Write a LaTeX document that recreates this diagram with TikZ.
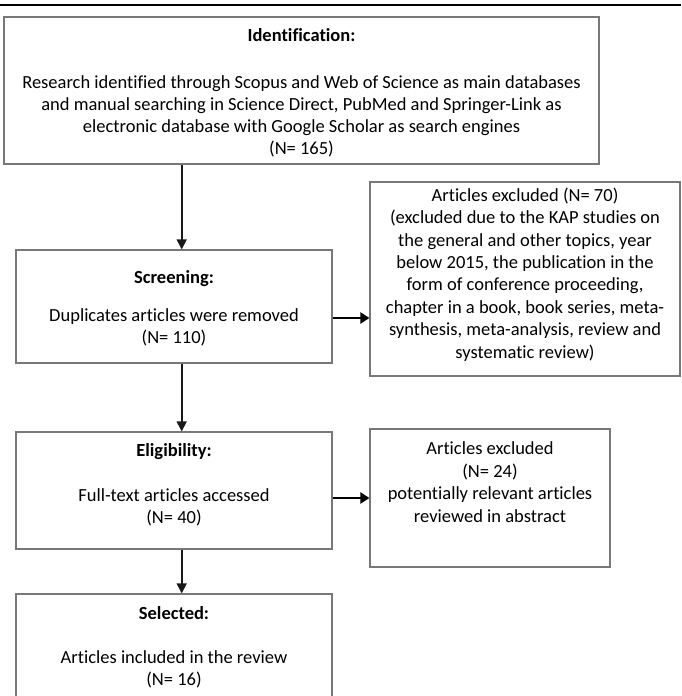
\documentclass[tikz,border=0pt]{standalone}
\usepackage{fontspec}
\setmainfont{Carlito}[Ligatures=NoCommon]
\usetikzlibrary{arrows.meta}
\definecolor{boxgray}{RGB}{120,120,120}
\tikzset{
  box/.style={draw=boxgray, line width=1.2pt, rectangle, inner sep=0pt},
  txt/.style={font=\fontsize{18.5}{22}\selectfont, align=center, inner sep=0pt},
  head/.style={font=\fontsize{18.5}{22}\selectfont\bfseries, align=center, inner sep=0pt},
  varrow/.style={draw=black!90, line width=1.6pt, -{Triangle[length=10pt,width=10pt]}},
  harrow/.style={draw=black, line width=2.7pt, -{Triangle[length=9pt,width=11pt]}},
  rule/.style={draw=black, line width=2.5pt}
}
\begin{document}
\begin{tikzpicture}[x=1pt,y=-1pt]
\useasboundingbox (0,0) rectangle (681,696);
\clip (0,0) rectangle (681,696);
% top rule
\coordinate (ruleL) at (0,5);
\coordinate (ruleR) at (681,5);
\draw[rule] (ruleL) -- (ruleR);
% boxes
\node[box, minimum width=595pt, minimum height=147pt] (ident) at (301.5,90.5) {};
\node[box, minimum width=316pt, minimum height=113pt] (screen) at (174,306.5) {};
\node[box, minimum width=310pt, minimum height=194pt] (excl1) at (525,279) {};
\node[box, minimum width=316pt, minimum height=117pt] (elig) at (174,490.5) {};
\node[box, minimum width=240pt, minimum height=138pt] (excl2) at (490,498) {};
\node[box, minimum width=316pt, minimum height=126pt] (sel) at (174,657) {};
% texts
\node[head] (identH) at (301.5,35) {Identification:};
\node[txt] (identB) at (301.5,116.5) {Research identified through Scopus and Web of Science as main databases\\and manual searching in Science Direct, PubMed and Springer-Link as\\electronic database with Google Scholar as search engines\\(N= 165)};
\node[head] (screenH) at (174,279) {Screening:};
\node[txt] (screenB) at (174,327) {Duplicates articles were removed\\(N= 110)};
\node[txt, font=\fontsize{18.5}{22.4}\selectfont] (excl1B) at (525,274.5) {Articles excluded (N= 70)\\(excluded due to the KAP studies on\\the general and other topics, year\\below 2015, the publication in the\\form of conference proceeding,\\chapter in a book, book series, meta-\\synthesis, meta-analysis, review and\\systematic review)};
\node[head] (eligH) at (174,452) {Eligibility:};
\node[txt] (eligB) at (174,507) {Full-text articles accessed\\(N= 40)};
\node[txt, font=\fontsize{18.5}{22.5}\selectfont] (excl2B) at (490,482) {Articles excluded\\(N= 24)\\potentially relevant articles\\reviewed in abstract};
\node[head] (selH) at (174,613) {Selected:};
\node[txt] (selB) at (174,669.5) {Articles included in the review\\(N= 16)};
% connectors
\coordinate (ax) at (181.7,0);
\coordinate (h1) at (0,318);
\coordinate (h2) at (0,498);
\draw[varrow] (ident.south -| ax) -- (screen.north -| ax);
\draw[varrow] (screen.south -| ax) -- (elig.north -| ax);
\draw[varrow] (elig.south -| ax) -- (sel.north -| ax);
\draw[harrow] (screen.east |- h1) -- (excl1.west |- h1);
\draw[harrow] (elig.east |- h2) -- (excl2.west |- h2);
\end{tikzpicture}
\end{document}
